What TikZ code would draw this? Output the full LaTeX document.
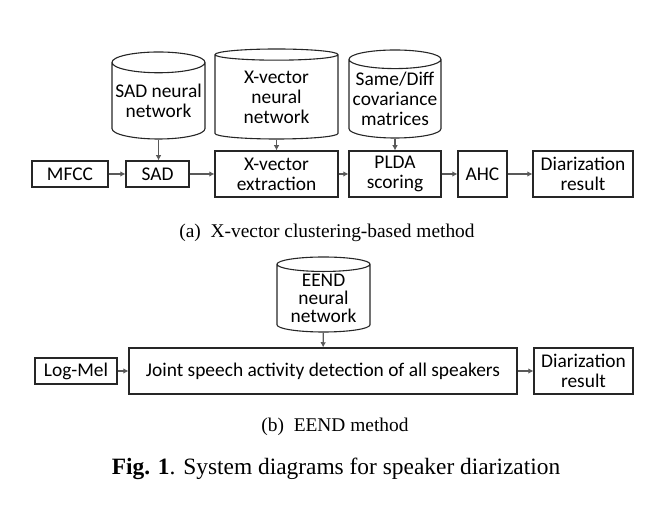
\documentclass[tikz,border=0pt]{standalone}
\usepackage{fontspec}
\setmainfont{Liberation Serif}
\newfontfamily\calibri{Carlito}
\usetikzlibrary{shapes.geometric, arrows.meta, positioning}
\tikzset{
  block/.style = {rectangle, draw=black!85, line width=0.55pt, align=center,
                  inner sep=0pt, font=\calibri\fontsize{9.7}{10}\selectfont},
  dbase/.style = {cylinder, shape border rotate=90, draw=black!85,
                  line width=0.55pt, align=center, inner sep=0pt,
                  anchor=shape center,
                  font=\calibri\fontsize{9.7}{10}\selectfont},
  arrow/.style = {-{Latex[length=2.6pt,width=2.8pt]}, line width=0.55pt,
                  draw=black!65},
}

\begin{document}
\begin{tikzpicture}[
  x=0.5pt, y=-0.5pt,
  capt/.style={font=\fontsize{9.7}{11}\selectfont},
]
  \useasboundingbox (0,0) rectangle (658,512);

  % (a) x-vector pipeline
  \node[block, minimum width=38pt, minimum height=13pt] (mfcc) at (70,174) {MFCC};
  \node[block, minimum width=31.5pt, minimum height=13pt] (sad) at (157.5,174) {SAD};
  \node[block, minimum width=61.5pt, minimum height=23pt] (xvec) at (276.5,174) {X-vector\\extraction};
  \node[block, minimum width=46pt, minimum height=23pt] (plda) at (395,174) {PLDA\\scoring};
  \node[block, minimum width=24.5pt, minimum height=23pt] (ahc) at (482.5,174) {AHC};
  \node[block, minimum width=50pt, minimum height=23pt] (diara) at (583,174) {Diarization\\result};

  \node[dbase, aspect=0.24, minimum width=46.5pt, minimum height=43.5pt] (sadnn) at (158.5,95.5) {SAD neural\\network};
  \node[dbase, aspect=0.17, minimum width=61.5pt, minimum height=45pt] (xvnn) at (276.5,94) {X-vector\\neural\\network};
  \node[dbase, aspect=0.22, minimum width=46pt, minimum height=44pt] (sdnn) at (395,94) {Same/Diff\\covariance\\matrices};

  \draw[arrow] (mfcc) -- (sad);
  \draw[arrow] (sad) -- (xvec);
  \draw[arrow] (xvec) -- (plda);
  \draw[arrow] (plda) -- (ahc);
  \draw[arrow] (ahc) -- (diara);
  \draw[arrow] (sadnn.south) -- (sadnn.south |- sad.north);
  \draw[arrow] (xvnn) -- (xvec);
  \draw[arrow] (sdnn) -- (plda);

  \node[capt] (capa) at (327,233) {(a)\ \ X-vector clustering-based method};

  % (b) EEND
  \node[block, minimum width=41pt, minimum height=13pt] (logmel) at (76,371) {Log-Mel};
  \node[block, minimum width=194pt, minimum height=23pt] (joint) at (323,371) {Joint speech activity detection of all speakers};
  \node[block, minimum width=49.5pt, minimum height=23pt] (diarb) at (583.5,371) {Diarization\\result};
  \node[dbase, aspect=0.22, minimum width=46.5pt, minimum height=37.5pt] (eend) at (323.5,294.5) {EEND\\[-0.8pt]neural\\[-0.8pt]network};

  \draw[arrow] (logmel) -- (joint);
  \draw[arrow] (joint) -- (diarb);
  \draw[arrow] (eend) -- (joint);

  \node[capt] (capb) at (335,427) {(b)\ \ EEND method};
  \node[font=\fontsize{11.7}{13}\selectfont] (fig) at (336,469) {\textbf{Fig. 1}. System diagrams for speaker diarization};
\end{tikzpicture}
\end{document}
